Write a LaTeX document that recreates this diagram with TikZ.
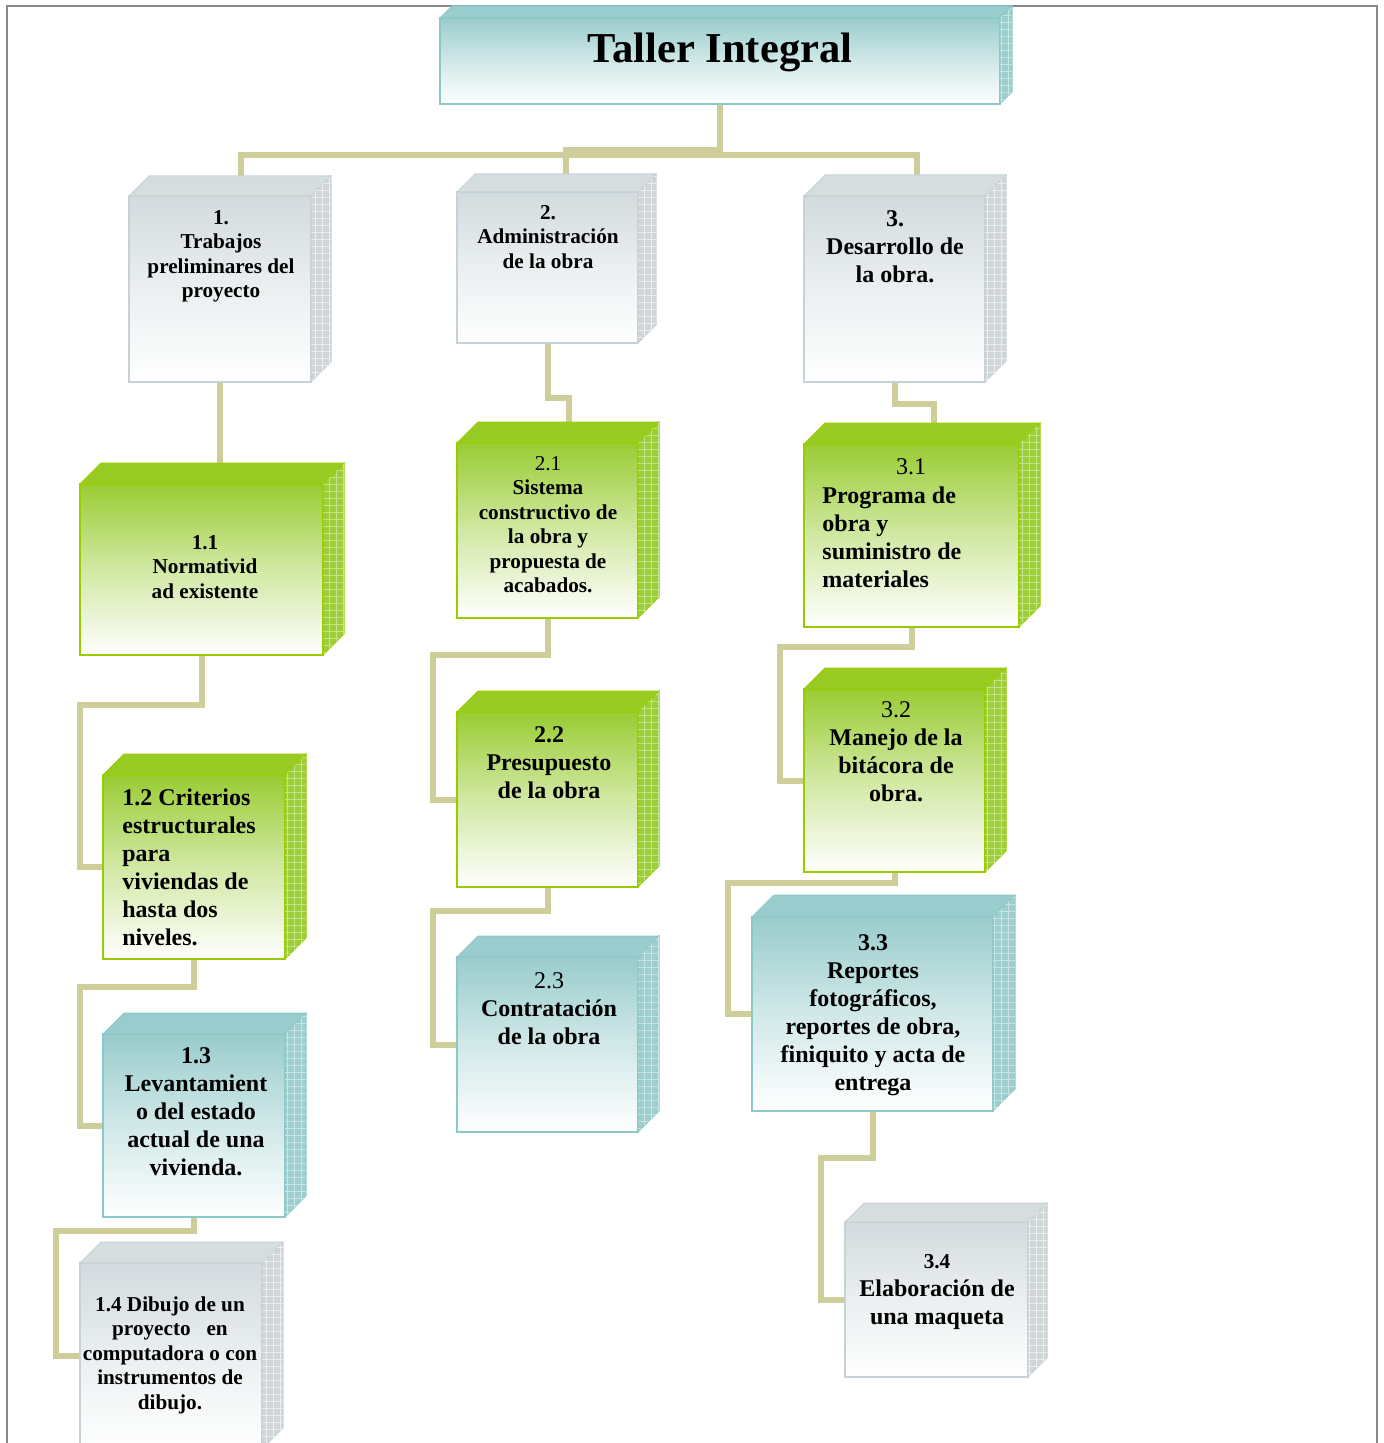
\documentclass[tikz,border=0pt]{standalone}
\usepackage{fontspec}
\setmainfont{Liberation Serif}
\usetikzlibrary{calc,backgrounds,patterns.meta}

\definecolor{verde}{RGB}{153,204,51}
\definecolor{verdeborde}{RGB}{153,204,0}
\definecolor{verdetapa}{RGB}{153,204,34}
\definecolor{verdelado}{RGB}{158,206,58}
\definecolor{verdemalla}{RGB}{196,228,140}
\definecolor{aqua}{RGB}{153,204,204}
\definecolor{aquaborde}{RGB}{140,200,200}
\definecolor{aquatapa}{RGB}{153,204,204}
\definecolor{aqualado}{RGB}{158,206,206}
\definecolor{aquamalla}{RGB}{200,228,228}
\definecolor{gris}{RGB}{210,219,222}
\definecolor{grisborde}{RGB}{198,210,213}
\definecolor{gristapa}{RGB}{214,221,223}
\definecolor{grislado}{RGB}{208,214,216}
\definecolor{grismalla}{RGB}{236,239,240}
\definecolor{conectorcolor}{RGB}{206,206,154}
\definecolor{marcocolor}{RGB}{136,136,136}

\tikzset{
  frente/.style={draw=#1borde, line width=0.9pt, top color=#1, bottom color=white,
    middle color=#1!45!white, inner sep=0pt, outer sep=0pt},
  tapa/.style={fill=#1tapa, draw=#1borde, line width=0.5pt},
  lado/.style={fill=#1lado, draw=#1borde, line width=0.5pt,
    postaction={pattern={Hatch[distance=3.5pt,line width=0.4pt]}, pattern color=#1malla}},
  conector/.style={draw=conectorcolor, line width=3pt},
  marco/.style={draw=marcocolor, line width=1pt},
  chico/.style={font=\fontsize{10.6}{12.25}\selectfont\bfseries, align=center, inner sep=0pt, anchor=north},
  grande/.style={font=\fontsize{12}{14}\selectfont\bfseries, align=center, inner sep=0pt, anchor=north},
}

% nombre, x1, y1, x2, y2, fondo, color
\newcommand{\cubo}[7]{%
  \node[frente=#7, minimum width={(#4-#2)*0.5pt}, minimum height={(#5-#3)*0.5pt}]
    (#1) at ({(#2+#4)/2},{(#3+#5)/2}) {};
  \path[tapa=#7] (#1.north west) -- ++(#6,-#6) -- ++({#4-#2},0) -- (#1.north east) -- cycle;
  \path[lado=#7] (#1.north east) -- ++(#6,-#6) -- ++(0,{#5-#3}) -- (#1.south east) -- cycle;
}

\begin{document}
\begin{tikzpicture}[x=0.5pt,y=-0.5pt]
  \useasboundingbox (0,0) rectangle (1384,1443);

  \cubo{c0}{440}{18}{1000}{104}{12}{aqua}
  \cubo{c1}{129}{196}{311}{382}{20}{gris}
  \cubo{c2}{457}{192}{638}{343}{18}{gris}
  \cubo{c3}{804}{196}{985}{382}{21}{gris}
  \cubo{c11}{80}{484}{323}{655}{21}{verde}
  \cubo{c12}{103}{775}{285}{959}{21}{verde}
  \cubo{c13}{103}{1034}{285}{1217}{21}{aqua}
  \cubo{c14}{80}{1263}{262}{1449}{21}{gris}
  \cubo{c21}{457}{443}{638}{618}{21}{verde}
  \cubo{c22}{457}{712}{638}{887}{21}{verde}
  \cubo{c23}{457}{957}{638}{1132}{21}{aqua}
  \cubo{c31}{804}{444}{1019}{627}{21}{verde}
  \cubo{c32}{804}{689}{985}{872}{21}{verde}
  \cubo{c33}{752}{917}{993}{1111}{22}{aqua}
  \cubo{c34}{845}{1222}{1028}{1377}{19}{gris}

  \node[font=\fontsize{21.3}{25}\selectfont\bfseries, anchor=base, inner sep=0pt] (t0) at (720,63) {Taller Integral};
  \node[chico] (t1) at (221,210) {1.\\Trabajos\\preliminares del\\proyecto};
  \node[chico] (t2) at (548,205) {2.\\Administración\\de la obra};
  \node[grande] (t3) at (895,210) {3.\\Desarrollo de\\la obra.};
  \node[chico] (t11) at (205,535) {1.1\\Normativid\\ad existente};
  \node[grande, align=left, anchor=north west] (t12) at (122,788) {1.2 Criterios\\estructurales\\para\\viviendas de\\hasta dos\\niveles.};
  \node[grande] (t13) at (196,1047) {1.3\\Levantamient\\o del estado\\actual de una\\vivienda.};
  \node[chico] (t14) at (170,1296) {1.4 Dibujo de un\\proyecto \ \ en\\computadora o con\\instrumentos de\\dibujo.};
  \node[chico] (t21) at (548,456) {{\mdseries 2.1}\\Sistema\\constructivo de\\la obra y\\propuesta de\\acabados.};
  \node[grande] (t22) at (549,726) {2.2\\Presupuesto\\de la obra};
  \node[grande] (t23) at (549,972) {{\mdseries 2.3}\\Contratación\\de la obra};
  \node[grande, font=\fontsize{12}{14}\selectfont\mdseries] (t31n) at (911,458) {3.1};
  \node[grande, align=left, anchor=north west] (t31) at (822,486) {Programa de\\obra y\\suministro de\\materiales};
  \node[grande] (t32) at (896,701) {{\mdseries 3.2}\\Manejo de la\\bitácora de\\obra.};
  \node[grande] (t33) at (873,934) {3.3\\Reportes\\fotográficos,\\reportes de obra,\\finiquito y acta de\\entrega};
  \node[grande] (t34) at (937,1254) {{\fontsize{10.6}{12.25}\selectfont 3.4}\\Elaboración de\\una maqueta};

  \begin{scope}[on background layer]
    \draw[marco] (7,1443) -- (7,6) -- (1377,6) -- (1377,1443);
    \draw[conector] (c0.south) -- ++(0,51) -| ($(c1.north)+(21,0)$);
    \draw[conector] (c0.south) -- ++(0,46) -| ($(c2.north)+(18,0)$);
    \draw[conector] (c0.south) -- ++(0,51) -| ($(c3.north)+(22,0)$);
    \draw[conector] (c1.south) -- (c1.south |- c11.north);
    \draw[conector] (c2.south) -- ++(0,55) -| ($(c21.north)+(21,0)$);
    \draw[conector] (c3.south) -- ++(0,22) -| ($(c31.north)+(22,0)$);
    \draw[conector] (c11.south) -- ++(0,50) -| ($(c12.west)+(-23,0)$) -- (c12.west);
    \draw[conector] (c12.south) -- ++(0,28) -| ($(c13.west)+(-23,0)$) -- (c13.west);
    \draw[conector] (c13.south) -- ++(0,14) -| ($(c14.west)+(-24,0)$) -- (c14.west);
    \draw[conector] (c21.south) -- ++(0,37) -| ($(c22.west)+(-24,0)$) -- (c22.west);
    \draw[conector] (c22.south) -- ++(0,24) -| ($(c23.west)+(-24,0)$) -- (c23.west);
    \draw[conector] (c31.south) -- ++(0,20) -| ($(c32.west)+(-24,0)$) -- (c32.west);
    \draw[conector] (c32.south) -- ++(0,11) -| ($(c33.west)+(-24,0)$) -- (c33.west);
    \draw[conector] (c33.south) -- ++(0,47) -| ($(c34.west)+(-24,0)$) -- (c34.west);
  \end{scope}
\end{tikzpicture}
\end{document}
